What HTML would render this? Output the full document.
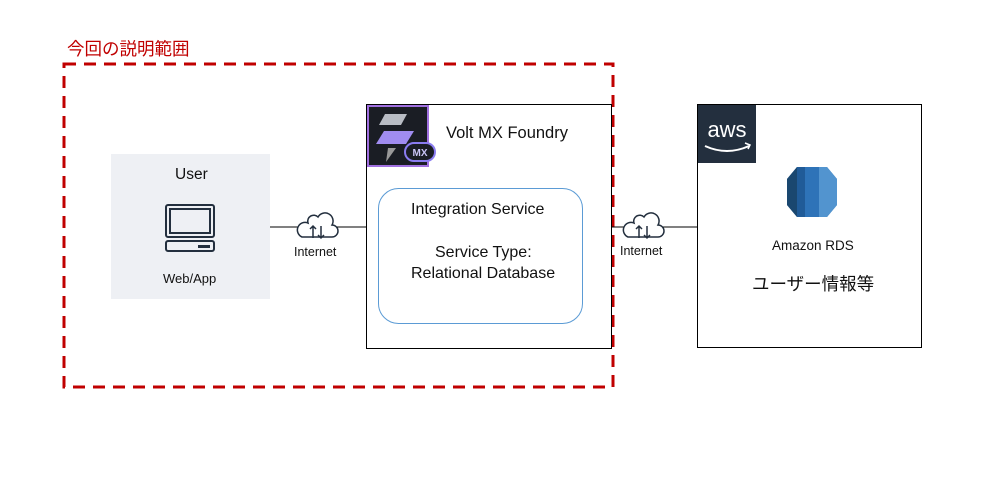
<!DOCTYPE html>
<html><head><meta charset="utf-8"><style>
body{margin:0;width:988px;height:487px;background:#fff;position:relative;overflow:hidden;font-family:"Liberation Sans","Noto Sans CJK JP",sans-serif;}
.a{position:absolute}
.t{position:absolute;white-space:nowrap;color:#111}
</style></head><body>
<svg class="a" style="left:0;top:0" width="988" height="487">
<rect x="64" y="64" width="549" height="323" fill="none" stroke="#c00000" stroke-width="3" stroke-dasharray="12,8"/>
<rect x="111" y="154" width="159" height="145" fill="#eef0f4"/>
<rect x="366.5" y="104.5" width="245" height="244" fill="#fff" stroke="#000"/>
<rect x="697.5" y="104.5" width="224" height="243" fill="#fff" stroke="#000"/>
<rect x="378.5" y="188.5" width="204" height="135" rx="20" fill="#fff" stroke="#5b9bd5"/>
<line x1="270" y1="227" x2="300" y2="227" stroke="#000"/>
<line x1="336" y1="227" x2="366" y2="227" stroke="#000"/>
<line x1="612" y1="227" x2="626" y2="227" stroke="#000"/>
<line x1="662" y1="227" x2="697" y2="227" stroke="#000"/>
<g fill="#fff" stroke="#232f3e" stroke-width="1.5">
<path d="M302 237 h30 a6 6 0 0 0 0 -12 a8 8 0 0 0 -14 -8 a6 6 0 0 0 -10 6 a7 7 0 0 0 -6 14z"/>
<path d="M628 237 h30 a6 6 0 0 0 0 -12 a8 8 0 0 0 -14 -8 a6 6 0 0 0 -10 6 a7 7 0 0 0 -6 14z"/>
</g>
<g stroke="#232f3e" stroke-width="1.5" fill="none">
<path d="M313 238 v-12 m-3 3 l3 -3 l3 3 M321 226 v12 m-3 -3 l3 3 l3 -3"/>
<path d="M639 238 v-12 m-3 3 l3 -3 l3 3 M647 226 v12 m-3 -3 l3 3 l3 -3"/>
</g>
<g fill="none" stroke="#232f3e" stroke-width="2">
<rect x="166" y="205" width="48" height="32" rx="2"/>
<rect x="170" y="209" width="40" height="24"/>
<rect x="166" y="241" width="48" height="10" rx="2"/>
</g>
<rect x="198" y="245" width="12" height="3" fill="#232f3e"/>
<rect x="368" y="106" width="60" height="60" fill="#1a1d24" stroke="#a070e0" stroke-width="2"/>
<path d="M385 114 h22 l-6 11 h-22z" fill="#b8bcc4"/>
<path d="M384 131 h30 l-8 13 h-30z" fill="#a08cf0"/>
<path d="M388 148 h8 l-10 14z" fill="#999"/>
<rect x="405" y="143" width="30" height="18" rx="9" fill="#1a1d24" stroke="#8a7cf0" stroke-width="2"/>
<text x="420" y="156" font-size="10" font-weight="bold" fill="#c9c4f5" text-anchor="middle" font-family="Liberation Sans">MX</text>
<rect x="698" y="105" width="58" height="58" fill="#232f3e"/>
<text x="727" y="137" font-size="22" fill="#fff" text-anchor="middle" font-family="Liberation Sans">aws</text>
<path d="M705 146 q22 10 44 0" stroke="#fff" stroke-width="2" fill="none"/>
<path d="M745 143 l5 2 l-2 4" stroke="#fff" stroke-width="1.5" fill="none"/>
<path d="M797 167 h30 l10 12 v26 l-10 12 h-30 l-10 -12 v-26z" fill="#2e73b8"/>
<path d="M797 167 l-10 12 v26 l10 12z" fill="#1a476f"/>
<path d="M797 167 h8 v50 h-8z" fill="#205b98"/>
<path d="M819 167 h8 l10 12 v26 l-10 12 h-8z" fill="#5294cf"/>
</svg>
<div class="t" style="left:67px;top:36px;font-size:17.5px;color:#c00000">今回の説明範囲</div>
<div class="t" style="left:175px;top:166px;font-size:15.5px">User</div>
<div class="t" style="left:163px;top:271px;font-size:13px">Web/App</div>
<div class="t" style="left:294px;top:245px;font-size:12.5px">Internet</div>
<div class="t" style="left:620px;top:244px;font-size:12.5px">Internet</div>
<div class="t" style="left:446px;top:124px;font-size:16.5px">Volt MX Foundry</div>
<div class="t" style="left:411px;top:201px;font-size:16px">Integration Service</div>
<div class="t" style="left:435px;top:244px;font-size:16px">Service Type:</div>
<div class="t" style="left:411px;top:265px;font-size:16px">Relational Database</div>
<div class="t" style="left:772px;top:238px;font-size:13.5px">Amazon RDS</div>
<div class="t" style="left:752px;top:271px;font-size:17.5px">ユーザー情報等</div>
</body></html>
